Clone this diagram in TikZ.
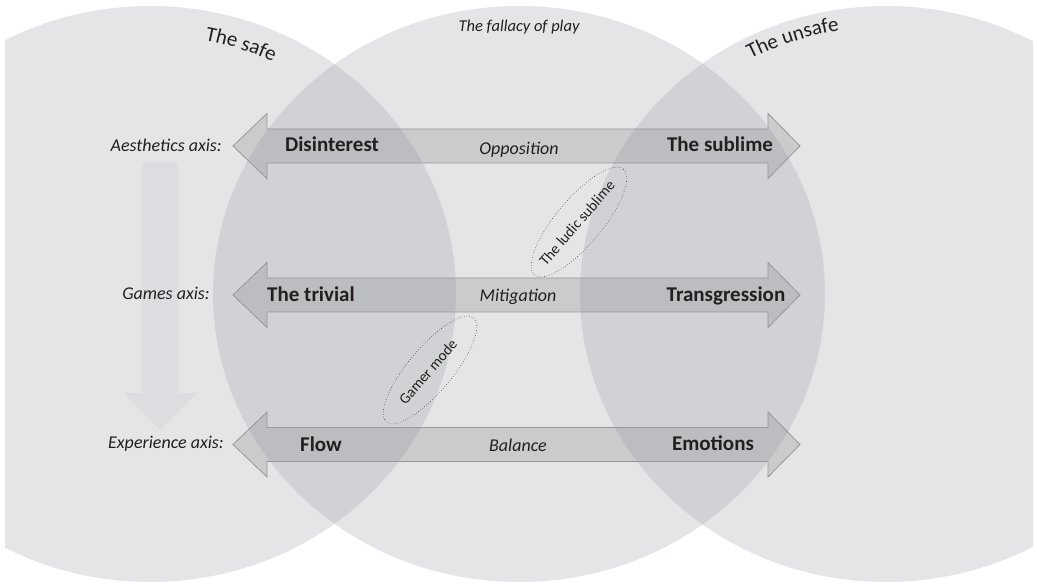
\documentclass[tikz,border=0pt]{standalone}
\usepackage{fontspec}
\setmainfont{Carlito}
\usetikzlibrary{decorations.text}
\definecolor{disc}{RGB}{168,170,175}
\definecolor{band}{RGB}{112,114,118}
\definecolor{bandline}{RGB}{150,151,154}
\definecolor{downfill}{RGB}{220,221,224}
\definecolor{ink}{RGB}{35,31,32}
% double-headed block arrow centred on height #1
\newcommand\axisband[1]{%
  \path[band] (233,#1) -- (267,{#1-32.5}) -- (267,{#1-17}) -- (768,{#1-17})
    -- (768,{#1-32.5}) -- (800,#1) -- (768,{#1+32.5}) -- (768,{#1+17})
    -- (267,{#1+17}) -- (267,{#1+32.5}) -- cycle;}
\begin{document}
\begin{tikzpicture}[x=1pt,y=-1pt,
  disc/.style={fill=disc,fill opacity=0.31},
  band/.style={fill=band,fill opacity=0.22,draw=bandline,line width=0.8pt,line join=miter},
  term/.style={font=\fontsize{21}{24}\selectfont\bfseries,text=ink,inner sep=0pt,anchor=base},
  axislabel/.style={font=\fontsize{18}{21}\selectfont\itshape,text=ink,inner sep=0pt,anchor=base east},
  relation/.style={font=\fontsize{18}{21}\selectfont\itshape,text=ink,inner sep=0pt,anchor=base},
  zone/.style={draw=ink!85,dotted,line width=0.6pt},
  zonelabel/.style={font=\fontsize{15}{18}\selectfont,text=ink,inner sep=0pt}]
\useasboundingbox (0,0) rectangle (1037,585);

% the three overlapping fields
\begin{scope}
  \clip (5,0) rectangle (1033,585);
  \fill[disc] (150,294) ellipse[x radius=306,y radius=288];
  \fill[disc] (519,294) ellipse[x radius=306,y radius=288];
  \fill[disc] (886,294) ellipse[x radius=306,y radius=288];
\end{scope}

% field titles set along the rims
\path[decorate,decoration={text along path,text align=center,text color=ink,
    text={|\fontsize{21}{24}\selectfont|The safe}}]
  (150,294) ++(-91:277 and 259) arc[start angle=-91,end angle=-51,x radius=277,y radius=259];
\path[decorate,decoration={text along path,text align=center,text color=ink,
    text={|\fontsize{21}{24}\selectfont|The unsafe}}]
  (886,294) ++(-131:285 and 267) arc[start angle=-131,end angle=-87,x radius=285,y radius=267];
\node[font=\fontsize{16.5}{19}\selectfont\itshape,text=ink,inner sep=0pt,anchor=base]
  (fallacy) at (519,32) {The fallacy of play};

% downward arrow joining the axes
\fill[downfill] (142,162) -- (178,162) -- (178,393) -- (197,393) -- (160,430)
  -- (124,393) -- (142,393) -- cycle;

% axis bands
\axisband{146}
\axisband{295}
\axisband{444.5}

% axis names
\node[axislabel] (aesL) at (222,152) {Aesthetics axis:};
\node[axislabel] (gamL) at (210,300) {Games axis:};
\node[axislabel] (expL) at (224,449) {Experience axis:};

% poles of each axis
\node[term] (disint)  at (332,152) {Disinterest};
\node[term] (sublime) at (720,152) {The sublime};
\node[term] (trivial) at (311,302) {The trivial};
\node[term] (transg)  at (726,302) {Transgression};
\node[term] (flow)    at (321,451) {Flow};
\node[term] (emot)    at (713,450) {Emotions};

% relation between the poles
\node[relation] (oppos) at (519,155) {Opposition};
\node[relation] (mitig) at (518,302) {Mitigation};
\node[relation] (balan) at (518,452) {Balance};

% dotted zones
\draw[zone,rotate around={50:(579,222)}] (579,222) ellipse[x radius=69,y radius=23];
\node[zonelabel,rotate=49] (ludic) at (577,223) {The ludic sublime};
\draw[zone,rotate around={50:(430,370)}] (430,370) ellipse[x radius=68,y radius=22];
\node[zonelabel,rotate=49] (gamer) at (428,372) {Gamer mode};
\end{tikzpicture}
\end{document}
